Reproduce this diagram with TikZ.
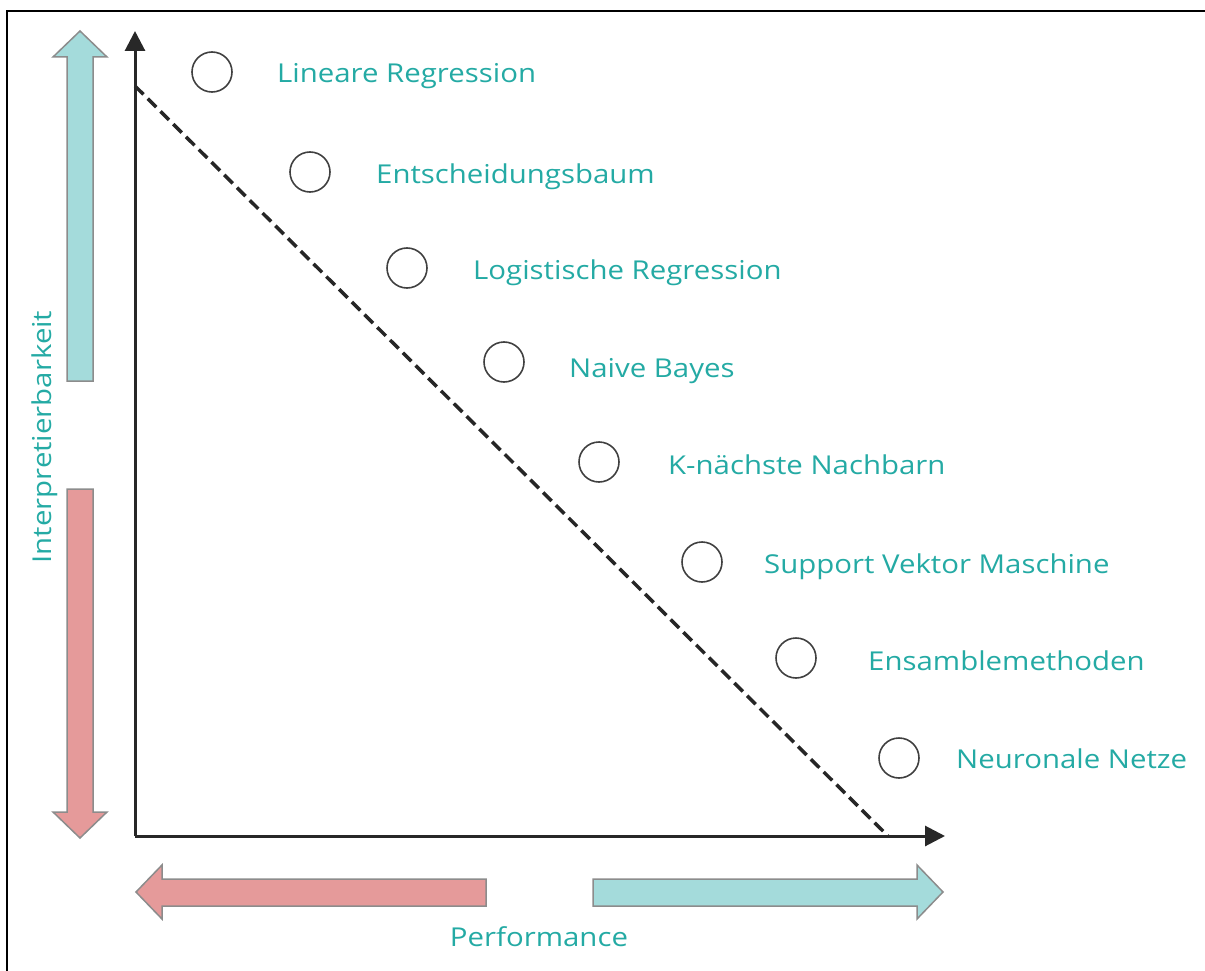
\documentclass[tikz,border=0pt]{standalone}
\usepackage{fontspec}
\setmainfont{Open Sans}[FakeStretch=1.13]
\usetikzlibrary{arrows.meta}
\definecolor{tealtxt}{RGB}{36,170,164}
\definecolor{cyanfill}{RGB}{164,219,219}
\definecolor{redfill}{RGB}{229,154,154}
\definecolor{arrowborder}{RGB}{140,140,140}
\definecolor{axisgray}{RGB}{40,40,40}
\tikzset{
  lbl/.style={text=tealtxt, font=\fontsize{26}{31}\selectfont, inner sep=0pt},
  itemcircle/.style={circle, draw=black!75, line width=1.6pt, minimum size=40pt, inner sep=0pt},
  axisline/.style={draw=axisgray, line width=3pt, -{Triangle[length=20pt,width=20pt]}},
  bigarrowcyan/.style={fill=cyanfill, draw=arrowborder, line width=1.5pt},
  bigarrowred/.style={fill=redfill, draw=arrowborder, line width=1.5pt},
  trendline/.style={draw=black!85, line width=3.5pt, dash pattern=on 12pt off 6pt}
}
\begin{document}
\begin{tikzpicture}[x=1pt,y=-1pt]
\useasboundingbox (0,0) rectangle (1205,971);
% frame
\draw[line width=2.5pt] (7,971) -- (7,11) -- (1205,11);

% axes
\coordinate (origin) at (135,836);
\coordinate (ytop) at (135,31);
\coordinate (xend) at (945,836);
\coordinate (dstart) at (135,86);
\coordinate (dend) at (888,836);
\draw[trendline] (dstart) -- (dend);
\draw[axisline] (origin) -- (ytop);
\draw[axisline] (origin) -- (xend);

% interpretability arrows
\draw[bigarrowcyan] (67,381) -- (67,57) -- (53,57) -- (80,31) -- (107,57) -- (93,57) -- (93,381) -- cycle;
\draw[bigarrowred] (67,489) -- (67,812) -- (53,812) -- (80,838) -- (107,812) -- (93,812) -- (93,489) -- cycle;

% performance arrows
\draw[bigarrowred] (486,879) -- (162,879) -- (162,865) -- (136,892) -- (162,919) -- (162,906) -- (486,906) -- cycle;
\draw[bigarrowcyan] (593,879) -- (917,879) -- (917,865) -- (943,892) -- (917,919) -- (917,906) -- (593,906) -- cycle;

% axis labels
\node[lbl, rotate=90, anchor=base] (ylabel) at (51,437) {Interpretierbarkeit};
\node[lbl, anchor=base] (xlabel) at (539,946) {Performance};

% items
\node[itemcircle] (c1) at (212,72) {};
\node[itemcircle] (c2) at (310,172) {};
\node[itemcircle] (c3) at (407,268) {};
\node[itemcircle] (c4) at (504,362) {};
\node[itemcircle] (c5) at (599,462) {};
\node[itemcircle] (c6) at (702,562) {};
\node[itemcircle] (c7) at (796,658) {};
\node[itemcircle] (c8) at (899,758) {};

\node[lbl, anchor=base west] (l1) at (277,83) {Lineare Regression};
\node[lbl, anchor=base west] (l2) at (376,183) {Entscheidungsbaum};
\node[lbl, anchor=base west] (l3) at (473,279) {Logistische Regression};
\node[lbl, anchor=base west] (l4) at (569,377) {Naive Bayes};
\node[lbl, anchor=base west] (l5) at (668,474) {K-nächste Nachbarn};
\node[lbl, anchor=base west] (l6) at (764,573) {Support Vektor Maschine};
\node[lbl, anchor=base west] (l7) at (868,670) {Ensamblemethoden};
\node[lbl, anchor=base west] (l8) at (956,768) {Neuronale Netze};
\end{tikzpicture}
\end{document}
